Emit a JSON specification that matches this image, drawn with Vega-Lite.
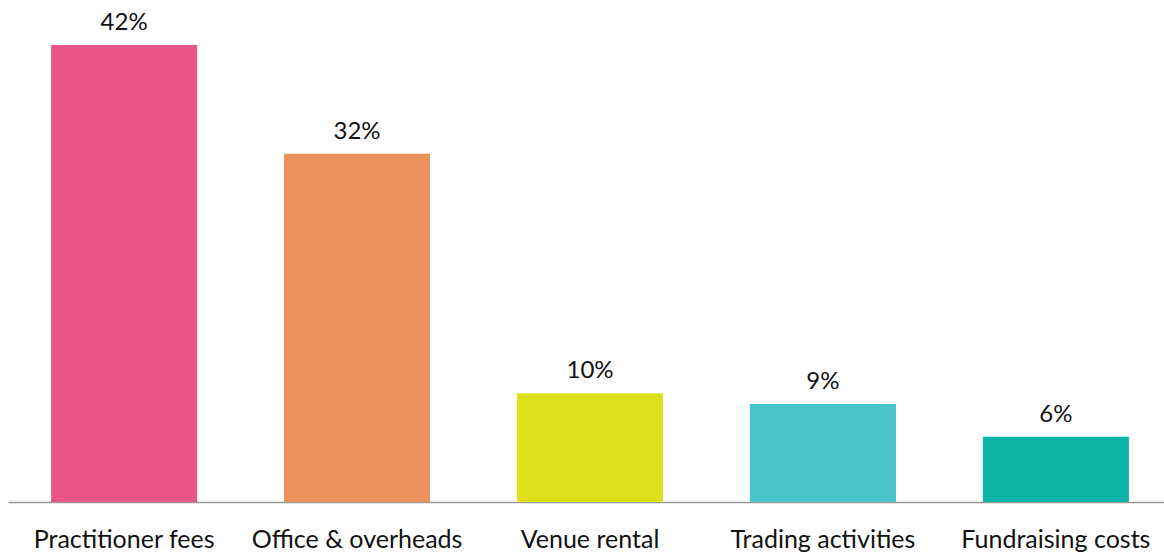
{
  "$schema": "https://vega.github.io/schema/vega-lite/v6.json",
  "width": 1156,
  "height": 457,
  "autosize": {"type": "none"},
  "padding": {"left": 8, "right": 0, "top": 45, "bottom": 51},
  "background": "white",
  "config": {"view": {"stroke": null}},
  "data": {"values": [
    {"cat": "Practitioner fees", "pct": 42, "label": "42%", "color": "#EA5589"},
    {"cat": "Office & overheads", "pct": 32, "label": "32%", "color": "#EB925C"},
    {"cat": "Venue rental", "pct": 10, "label": "10%", "color": "#DDE01A"},
    {"cat": "Trading activities", "pct": 9, "label": "9%", "color": "#48C3C9"},
    {"cat": "Fundraising costs", "pct": 6, "label": "6%", "color": "#0DB5A9"}
  ]},
  "encoding": {
    "x": {
      "field": "cat", "type": "nominal", "sort": null,
      "scale": {"range": [0, 1164], "paddingInner": 0.373, "paddingOuter": 0.185},
      "axis": {
        "title": null, "labelAngle": 0, "ticks": false,
        "domainColor": "#999999", "domainWidth": 1.5,
        "labelFont": "Lato", "labelFontSize": 25, "labelColor": "#111111",
        "labelPadding": 45, "labelBaseline": "alphabetic",
        "labelLimit": 0, "labelOverlap": false, "labelBound": false
      }
    },
    "y": {
      "field": "pct", "type": "quantitative",
      "scale": {"domain": [0, 42], "nice": false},
      "axis": null
    }
  },
  "layer": [
    {"mark": {"type": "bar"}, "encoding": {"color": {"field": "color", "type": "nominal", "scale": null}}},
    {"mark": {"type": "text", "baseline": "alphabetic", "dy": -15, "font": "Lato", "fontSize": 24, "color": "#111111"},
     "encoding": {"text": {"field": "label"}}}
  ]
}
